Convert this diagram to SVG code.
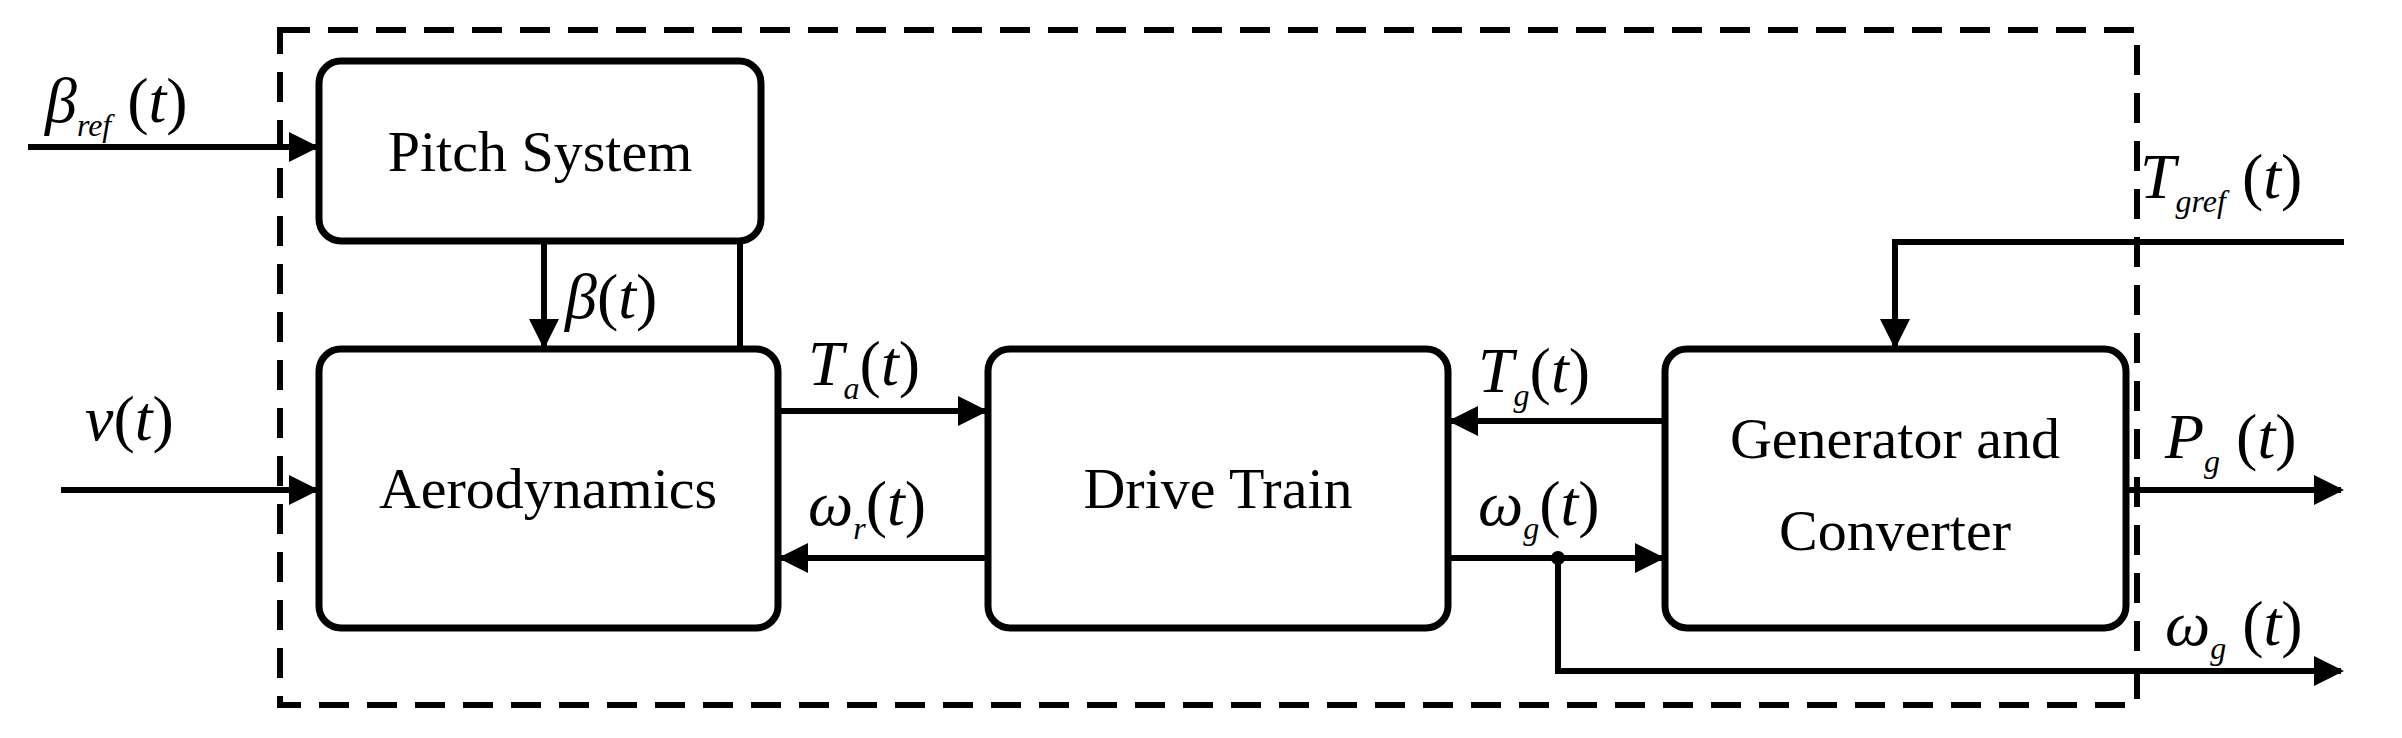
<svg xmlns="http://www.w3.org/2000/svg" width="2402" height="738" viewBox="0 0 2402 738">
<style>
.b{fill:#fff;stroke:#000;stroke-width:7}
.t{font-family:"Liberation Serif",serif;font-size:58px;text-anchor:middle}
.m{font-family:"Liberation Serif",serif;font-size:64px;font-style:italic}
.s{font-size:32px}
.p{font-style:normal}
.c{fill:none;stroke:#000;stroke-width:6}
</style>
<defs><marker id="a" viewBox="0 0 10 10" refX="9" refY="5" markerWidth="5" markerHeight="5" orient="auto" markerUnits="strokeWidth"><path d="M0,0L10,5L0,10z"/></marker></defs>
<rect x="280" y="30" width="1857" height="675" fill="none" stroke="#000" stroke-width="6" stroke-dasharray="30 18"/>
<g id="pitch"><rect class="b" x="319" y="61" width="442" height="180" rx="22"/><text class="t" x="540" y="171">Pitch System</text></g>
<g id="aero"><rect class="b" x="319" y="349" width="459" height="279" rx="22"/><text class="t" x="548" y="508">Aerodynamics</text></g>
<g id="drive"><rect class="b" x="988" y="349" width="460" height="279" rx="22"/><text class="t" x="1218" y="508">Drive Train</text></g>
<g id="gen"><rect class="b" x="1665" y="349" width="461" height="279" rx="22"/><text class="t" x="1895" y="458">Generator and</text><text class="t" x="1895" y="550">Converter</text></g>
<g id="connectors">
<path class="c" d="M28,147H316" marker-end="url(#a)"/>
<path class="c" d="M544,241V346" stroke-width="8" marker-end="url(#a)"/>
<path class="c" d="M740,241V349"/>
<path class="c" d="M61,490H316" marker-end="url(#a)"/>
<path class="c" d="M778,411H985" marker-end="url(#a)"/>
<path class="c" d="M988,558H781" marker-end="url(#a)"/>
<path class="c" d="M1665,421H1451" marker-end="url(#a)"/>
<path class="c" d="M1448,558H1662" marker-end="url(#a)"/>
<path class="c" d="M1558,558V671H2341" marker-end="url(#a)"/>
<circle cx="1558" cy="558" r="7"/>
<path class="c" d="M2126,490H2341" marker-end="url(#a)"/>
<path class="c" d="M2344,242H1895V346" marker-end="url(#a)"/>
</g>
<text class="m" x="45" y="122">β<tspan class="s" dy="14">ref</tspan><tspan class="p" dy="-14"> (</tspan>t<tspan class="p">)</tspan></text>
<text class="m" x="565" y="318">β<tspan class="p">(</tspan>t<tspan class="p">)</tspan></text>
<text class="m" x="85" y="440">v<tspan class="p">(</tspan>t<tspan class="p">)</tspan></text>
<text class="m" x="808" y="385">T<tspan class="s" dy="14">a</tspan><tspan class="p" dy="-14">(</tspan>t<tspan class="p">)</tspan></text>
<text class="m" x="808" y="525">ω<tspan class="s" dy="14">r</tspan><tspan class="p" dy="-14">(</tspan>t<tspan class="p">)</tspan></text>
<text class="m" x="1478" y="392">T<tspan class="s" dy="14">g</tspan><tspan class="p" dy="-14">(</tspan>t<tspan class="p">)</tspan></text>
<text class="m" x="1478" y="525">ω<tspan class="s" dy="14">g</tspan><tspan class="p" dy="-14">(</tspan>t<tspan class="p">)</tspan></text>
<text class="m" x="2140" y="198">T<tspan class="s" dy="14">gref</tspan><tspan class="p" dy="-14"> (</tspan>t<tspan class="p">)</tspan></text>
<text class="m" x="2165" y="458">P<tspan class="s" dy="14">g</tspan><tspan class="p" dy="-14"> (</tspan>t<tspan class="p">)</tspan></text>
<text class="m" x="2165" y="645">ω<tspan class="s" dy="14">g</tspan><tspan class="p" dy="-14"> (</tspan>t<tspan class="p">)</tspan></text>
</svg>
